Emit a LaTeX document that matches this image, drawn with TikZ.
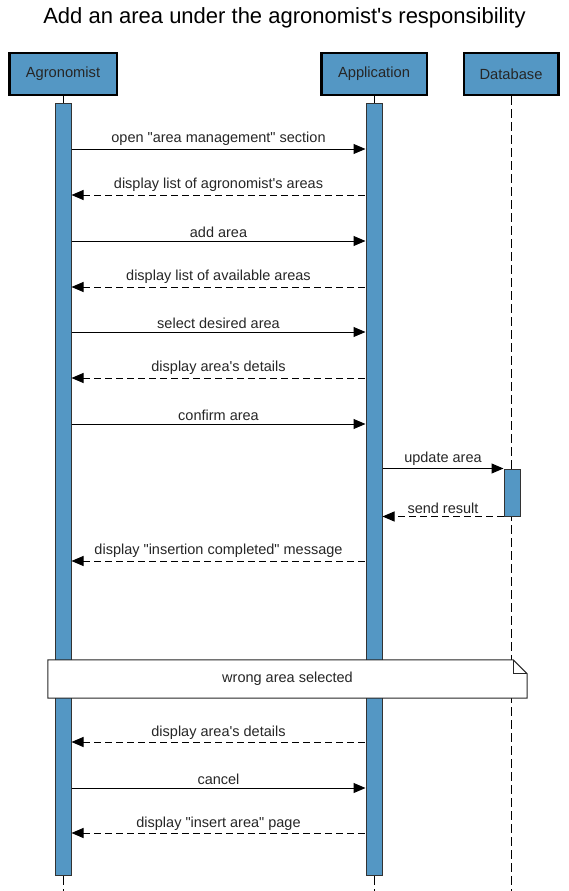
\documentclass[tikz,border=0pt]{standalone}
\usepackage{fontspec}
\setmainfont{Liberation Sans}[Ligatures=TeXOff]
\usetikzlibrary{arrows.meta,positioning}
\definecolor{actblue}{RGB}{84,151,196}

\begin{document}
\begin{tikzpicture}[x=1pt,y=-1pt,
    head/.style={draw=black,line width=2.5pt,fill=actblue,minimum height=41.5pt,
        font=\fontsize{14.7}{17}\selectfont,text=black!85},
    bar/.style={draw=black!80,line width=1pt,fill=actblue,minimum width=16pt,inner sep=0pt},
    life/.style={line width=1pt,dash pattern=on 9pt off 4pt},
    msg/.style={line width=1pt,-{Triangle[length=12pt,width=10pt]}},
    reply/.style={line width=1pt,dash pattern=on 7pt off 4pt,{Triangle[length=12pt,width=10pt]}-},
    back/.style={line width=1pt,dash pattern=on 7pt off 4pt,-{Triangle[length=12pt,width=10pt]}},
    lbl/.style={font=\fontsize{14.5}{17}\selectfont,text=black!85,above,inner sep=2.5pt}]
    \useasboundingbox (0,0) rectangle (569,891);

    %% title
    \node[font=\fontsize{22}{26}\selectfont] (title) at (284.5,18) {Add an area under the agronomist's responsibility};

    %% lifelines
    \node[head,minimum width=107.5pt] (agr) at (63,74) {Agronomist};
    \node[head,minimum width=105.5pt] (app) at (374,74) {Application};
    \node[head,minimum width=94.5pt] (db) at (511,74) {Database};
    \foreach \n in {agr,app,db} {
        \coordinate (\n end) at (\n.center |- 0,891);
        \draw[life] (\n.south) -- (\n end);
    }
    \node[head,minimum width=107.5pt] (agr) at (63,74) {Agronomist};
    \node[head,minimum width=105.5pt] (app) at (374,74) {Application};
    \node[head,minimum width=94.5pt] (db) at (511,74) {Database};

    %% activations
    \node[bar,minimum height=772pt] (agrbar) at (63,489) {};
    \node[bar,minimum height=772pt] (appbar) at (374,489) {};
    \node[bar,minimum height=47pt] (dbbar) at (512,492.5) {};

    %% messages
    \foreach \y/\txt/\sty in {149/{open "area management" section}/msg,
        195/{display list of agronomist's areas}/reply,
        241/{add area}/msg,
        287/{display list of available areas}/reply,
        332/{select desired area}/msg,
        378/{display area's details}/reply,
        424/{confirm area}/msg,
        561/{display "insertion completed" message}/reply,
        742/{display area's details}/reply,
        788/{cancel}/msg,
        833/{display "insert area" page}/reply} {
        \draw[\sty] (agrbar.east |- 0,\y) -- (appbar.west |- 0,\y) node[lbl,midway] {\txt};
    }
    \draw[msg] (appbar.east |- dbbar.north west) -- (dbbar.north west) node[lbl,midway] {update area};
    \draw[back] (dbbar.south west) -- (appbar.east |- dbbar.south west) node[lbl,midway] {send result};

    %% fragment note
    \node[fill=white,minimum width=479pt,minimum height=38pt,inner sep=0pt,
        font=\fontsize{14.5}{17}\selectfont,text=black!85] (note) at (287.5,679) {wrong area selected};
    \draw[line width=1pt,black!85] (note.south west) -- (note.north west) -- ([xshift=-14pt]note.north east)
        -- ([yshift=-14pt]note.north east) -- (note.south east) -- cycle;
    \draw[line width=1pt,black!85] ([xshift=-14pt]note.north east) |- ([yshift=-14pt]note.north east);
\end{tikzpicture}
\end{document}
